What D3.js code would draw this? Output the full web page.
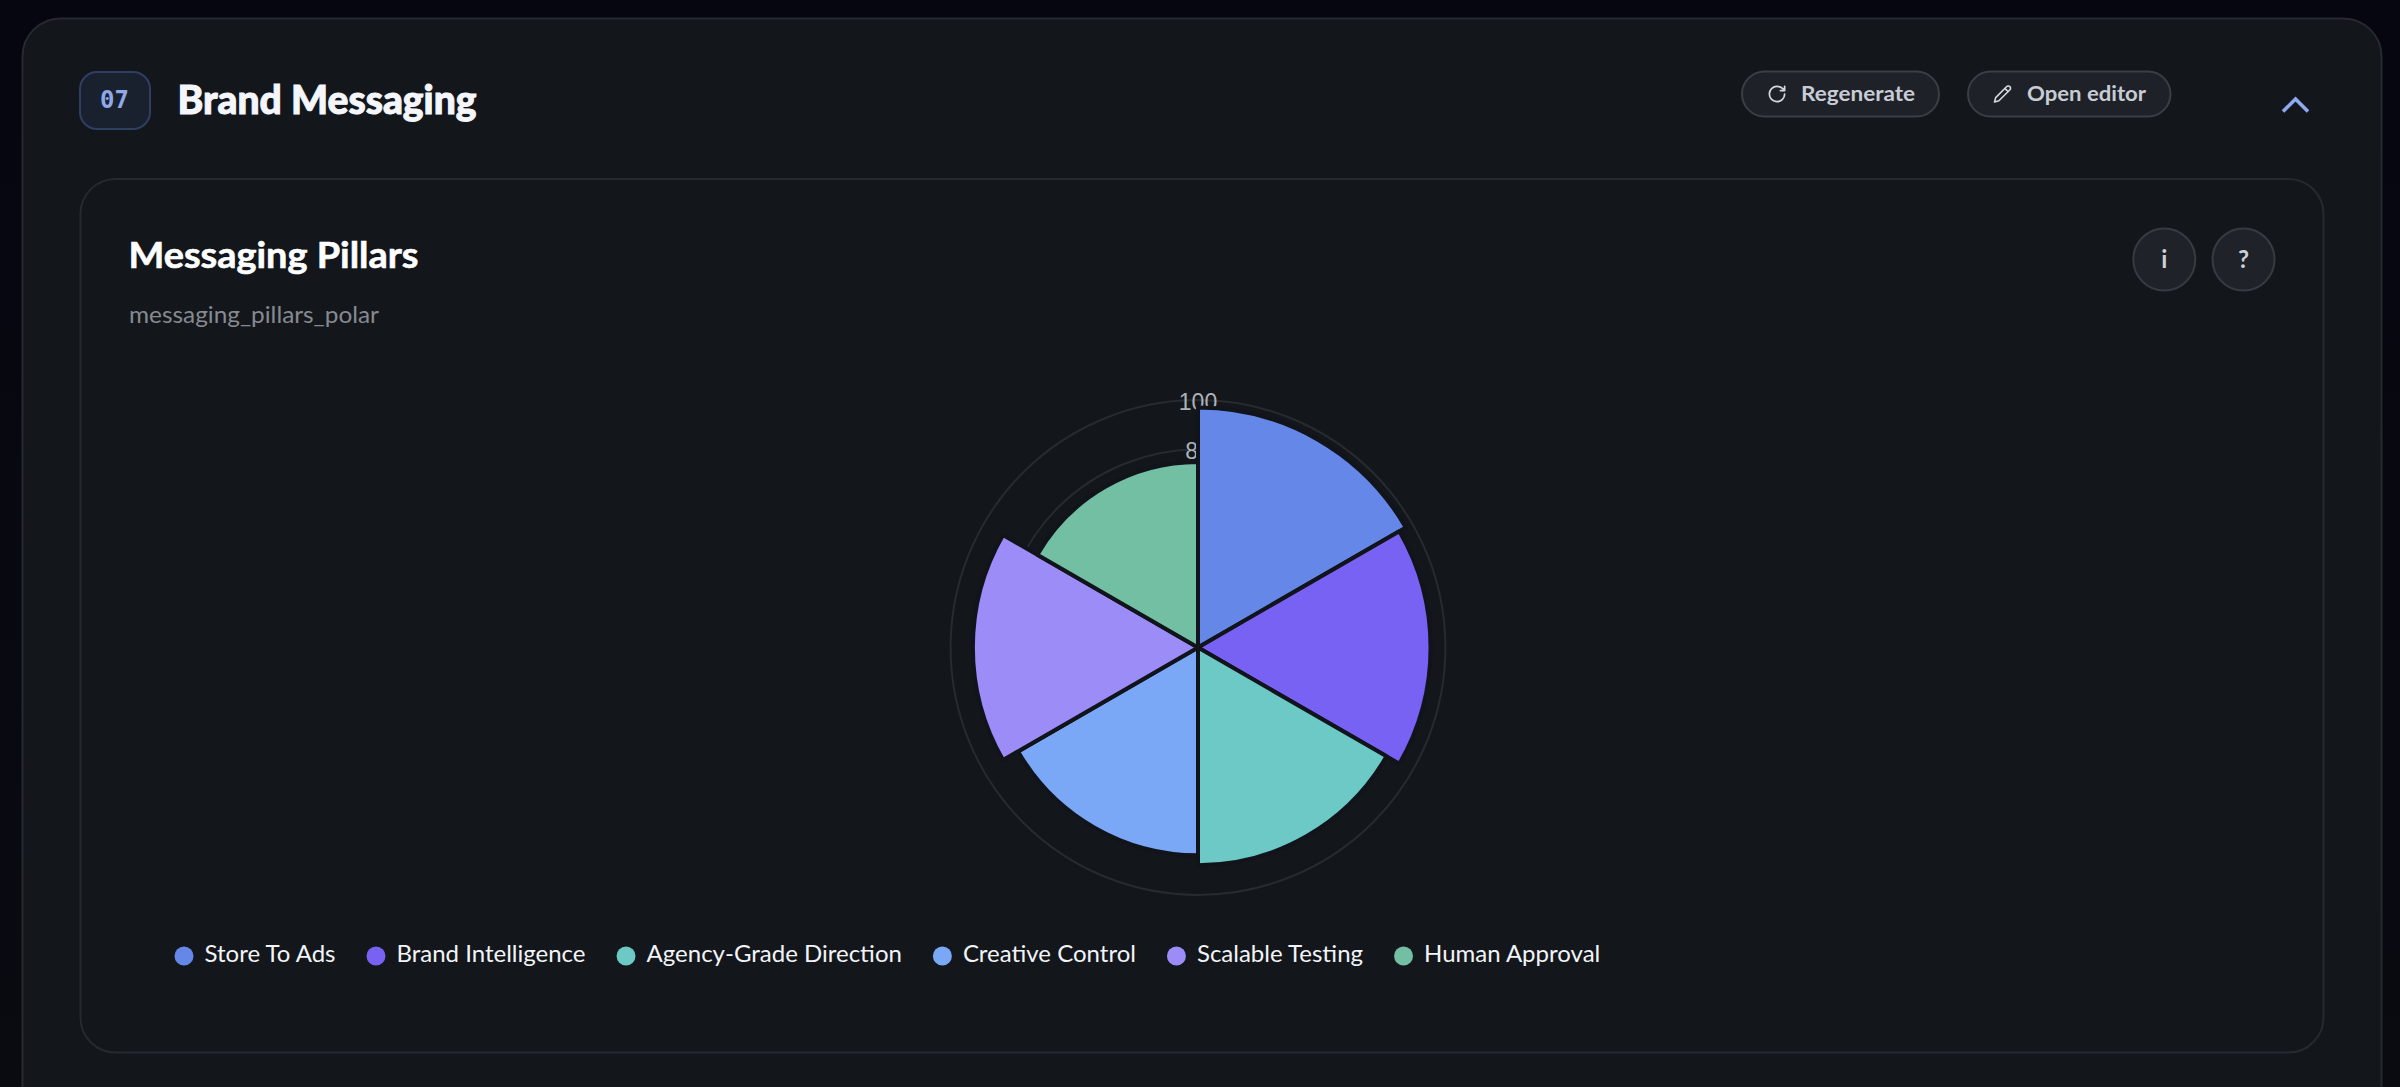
<!DOCTYPE html>
<html lang="en">

<head>
    <meta charset="UTF-8">
    <title>Messaging Pillars</title>
    <script src="https://d3js.org/d3.v7.min.js"></script>
    <style>
        html, body {
            margin: 0;
            padding: 0;
            background: #05070f;
            overflow: hidden;
        }

        svg {
            display: block;
            font-family: Lato, sans-serif;
        }
    </style>
</head>

<body>
    <svg id="page" width="2400" height="1087"></svg>

    <script>
        const pillars = ['Store To Ads', 'Brand Intelligence', 'Agency-Grade Direction', 'Creative Control', 'Scalable Testing', 'Human Approval'];
        const pillarValues = [97, 94, 88, 84, 91, 75];
        const pillarColors = ['#6587e7', '#7862f4', '#6cc9c6', '#7aa8f7', '#9b8cf8', '#72bfa4'];
        const radialTicks = [20, 40, 60, 80, 100];

        const svg = d3.select('#page');

        // page background, a very dark navy
        const grad = svg.append('defs').append('linearGradient')
            .attr('id', 'bg').attr('x1', 0).attr('y1', 0).attr('x2', 0).attr('y2', 1);
        grad.append('stop').attr('offset', 0).attr('stop-color', '#05060f');
        grad.append('stop').attr('offset', 1).attr('stop-color', '#090b11');
        svg.append('rect').attr('width', 2400).attr('height', 1087).attr('fill', 'url(#bg)');

        // outer section card runs past the bottom of the window
        svg.append('rect')
            .attr('x', 22.5).attr('y', 18.5).attr('width', 2359).attr('height', 1200).attr('rx', 38)
            .attr('fill', '#13171c').attr('stroke', '#262a30').attr('stroke-width', 2);

        // header
        svg.append('rect')
            .attr('x', 80).attr('y', 72).attr('width', 70).attr('height', 57).attr('rx', 17)
            .attr('fill', '#19202e').attr('stroke', '#2f3f63').attr('stroke-width', 2);
        svg.append('text')
            .attr('x', 114.5).attr('y', 108).attr('text-anchor', 'middle')
            .style('font-family', '"DejaVu Sans Mono", monospace').style('font-size', '24px').style('font-weight', 700)
            .attr('fill', '#8fa8e8').text('07');
        svg.append('text')
            .attr('x', 177.5).attr('y', 114)
            .attr('textLength', 299).attr('lengthAdjust', 'spacingAndGlyphs')
            .style('font-size', '40px').style('font-weight', 900)
            .attr('fill', '#f4f6fb').attr('stroke', '#f4f6fb').attr('stroke-width', 1)
            .text('Brand Messaging');

        function pillButton(x, w, label, textX, textW, icon, iconX, iconS) {
            svg.append('rect')
                .attr('x', x).attr('y', 71.5).attr('width', w).attr('height', 45).attr('rx', 22.5)
                .attr('fill', '#1e2228').attr('stroke', '#3a3e45').attr('stroke-width', 2);
            svg.append('text')
                .attr('x', textX).attr('y', 101)
                .attr('textLength', textW).attr('lengthAdjust', 'spacingAndGlyphs')
                .style('font-size', '21px').style('font-weight', 700)
                .attr('fill', '#c8ccd4').text(label);
            svg.append('path')
                .attr('transform', `translate(${iconX},${94}) scale(${iconS}) translate(-12,-12)`)
                .attr('d', icon).attr('fill', 'none').attr('stroke', '#d5d8de')
                .attr('stroke-width', 2).attr('stroke-linecap', 'round').attr('stroke-linejoin', 'round');
        }

        pillButton(1742, 197, 'Regenerate', 1801, 114,
            'M21 12a9 9 0 1 1-9-9c2.52 0 4.93 1 6.74 2.74L21 8M21 3v5h-5', 1777, 0.85);
        pillButton(1968, 202.5, 'Open editor', 2027, 119,
            'M17 3a2.85 2.83 0 1 1 4 4L7.5 20.5 2 22l1.5-5.5ZM15 5l4 4', 2002.5, 0.8);

        // collapse chevron
        svg.append('path')
            .attr('d', 'M2283 111.5L2295.5 99L2308 111.5')
            .attr('fill', 'none').attr('stroke', '#8fa8ef').attr('stroke-width', 3.6);

        // inner chart card
        svg.append('rect')
            .attr('x', 80.5).attr('y', 179).attr('width', 2243).attr('height', 873.5).attr('rx', 35)
            .attr('fill', '#13171c').attr('stroke', '#262a30').attr('stroke-width', 2);

        svg.append('text')
            .attr('x', 128.5).attr('y', 268)
            .attr('textLength', 290).attr('lengthAdjust', 'spacingAndGlyphs')
            .style('font-size', '36px').style('font-weight', 700)
            .attr('fill', '#ffffff').attr('stroke', '#ffffff').attr('stroke-width', 0.6)
            .text('Messaging Pillars');
        svg.append('text')
            .attr('x', 129).attr('y', 323)
            .attr('textLength', 250).attr('lengthAdjust', 'spacingAndGlyphs')
            .style('font-size', '24px')
            .attr('fill', '#868a90').text('messaging_pillars_polar');

        [['i', 2164.3], ['?', 2243.5]].forEach(([label, cx]) => {
            svg.append('circle')
                .attr('cx', cx).attr('cy', 259.5).attr('r', 31)
                .attr('fill', '#1f2329').attr('stroke', '#363a41').attr('stroke-width', 2);
            svg.append('text')
                .attr('x', cx).attr('y', 268).attr('text-anchor', 'middle')
                .style('font-size', '24px').style('font-weight', 700)
                .attr('fill', '#ced1d8').text(label);
        });

        // polar area chart
        const cx = 1198;
        const cy = 647.5;
        const rScale = d3.scaleLinear().domain([0, 100]).range([0, 247.4]);
        const chart = svg.append('g').attr('transform', `translate(${cx},${cy})`);

        const ticks = chart.append('g');
        ticks.selectAll('circle')
            .data(radialTicks)
            .join('circle')
            .attr('r', d => rScale(d))
            .attr('fill', 'none')
            .attr('stroke', '#272b31')
            .attr('stroke-width', 2);
        ticks.selectAll('text')
            .data(radialTicks)
            .join('text')
            .attr('y', d => -rScale(d))
            .attr('dy', '0.42em')
            .attr('text-anchor', 'middle')
            .style('font-family', '"Liberation Sans", sans-serif')
            .style('font-size', '23px')
            .attr('fill', '#aeb2b8')
            .text(d => d);

        const pie = d3.pie().value(1).sort(null);
        const arc = d3.arc().innerRadius(0).outerRadius(d => rScale(d.data.value));
        chart.selectAll('path')
            .data(pie(pillars.map((name, i) => ({ name, value: pillarValues[i], color: pillarColors[i] }))))
            .join('path')
            .attr('d', arc)
            .attr('fill', d => d.data.color)
            .attr('stroke', '#11141a')
            .attr('stroke-width', 4)
            .attr('stroke-linejoin', 'bevel');

        // legend, laid out from the measured width of each label
        let legendX = 174.5;
        pillars.forEach((name, i) => {
            const item = svg.append('g').attr('transform', `translate(${legendX},956)`);
            item.append('circle').attr('cx', 9.5).attr('r', 9.5).attr('fill', pillarColors[i]);
            const label = item.append('text')
                .attr('x', 30).attr('y', 6)
                .style('font-size', '24px')
                .attr('fill', '#f2f4f8')
                .text(name);
            legendX += 30 + label.node().getComputedTextLength() + 31;
        });
    </script>
</body>

</html>
